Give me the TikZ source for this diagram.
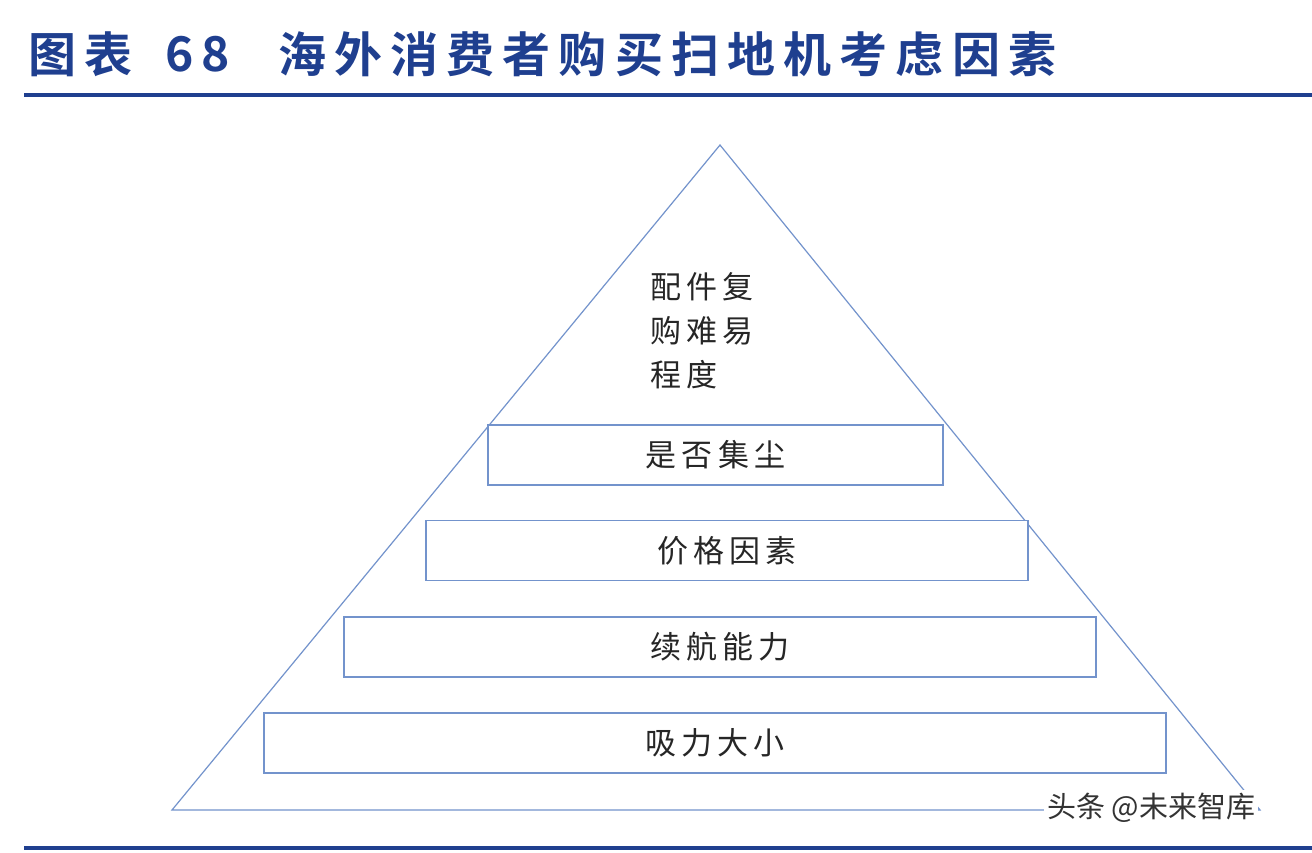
\documentclass[tikz,border=0pt]{standalone}
\usepackage{fontspec}
\newfontfamily\cjk{Noto Sans CJK SC}
\newfontfamily\cjkb[LetterSpace=17]{Noto Sans CJK SC Bold}
\definecolor{tblue}{HTML}{1F3F8F}
\definecolor{lblue}{HTML}{7393CC}
\begin{document}
\begin{tikzpicture}[x=1pt,y=-1pt,
  lay/.style={draw=lblue,line width=1.3pt,minimum height=60pt,inner sep=0pt,font=\cjk\fontsize{31}{36}\selectfont,text=black!85},
  ttl/.style={anchor=west,text=tblue,font=\cjkb\fontsize{48}{54}\selectfont,inner sep=0}]
\useasboundingbox (0,0) rectangle (1312,852);
\fill[white] (0,0) rectangle (1312,852);
\node[ttl] (t1) at (28,54) {图表};
\node[ttl] (t2) at (165,54) {68};
\node[ttl] (t3) at (278,54) {海外消费者购买扫地机考虑因素};
\draw[tblue,line width=4pt] (24,95) -- (1312,95);
\draw[tblue,line width=4pt] (24,848) -- (1312,848);
\coordinate (apex) at (720,145);
\coordinate (bl) at (172,810);
\coordinate (br) at (1260,810);
\draw[lblue,line width=1.2pt] (apex) -- (br) -- (bl) -- cycle;
\node[anchor=north west,align=left,inner sep=0,font=\cjk\fontsize{31}{44}\selectfont,text=black!85] (top) at (650,272) {配\,件\,复\\购\,难\,易\\程\,度};
\node[lay,minimum width=455pt,fill=white] (b1) at (715.5,455) {是\,否\,集\,尘};
\node[lay,minimum width=602pt,fill=white] (b2) at (727,550.5) {价\,格\,因\,素};
\node[lay,minimum width=752pt,fill=white] (b3) at (720,647) {续\,航\,能\,力};
\node[lay,minimum width=902pt,fill=white] (b4) at (715,743) {吸\,力\,大\,小};
\node[anchor=west,inner sep=3pt,fill=white,text=black!80,font=\cjk\fontsize{29}{32}\selectfont] (wm) at (1044,808) {头条 @未来智库};
\end{tikzpicture}
\end{document}
